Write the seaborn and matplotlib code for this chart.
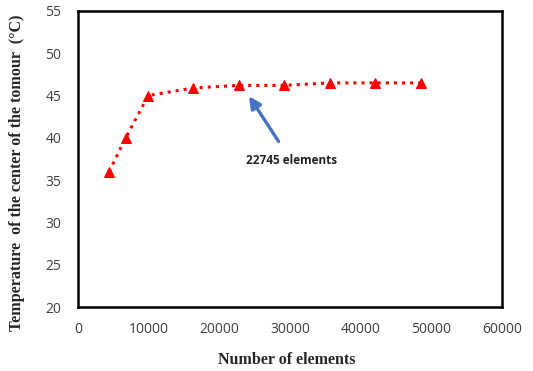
import matplotlib
matplotlib.use("Agg")
import matplotlib.pyplot as plt
import seaborn as sns
import pandas as pd

# values
elements = [4400, 6750, 9950, 16300, 22745, 29200, 35650, 42100, 48500]
temperature = [36.0, 40.0, 45.0, 45.9, 46.2, 46.2, 46.5, 46.5, 46.5]

df = pd.DataFrame({"elements": elements, "temperature": temperature})

sns.set_style("white")
plt.rcParams["font.family"] = ["Open Sans", "DejaVu Sans"]
plt.rcParams["xtick.direction"] = "in"
plt.rcParams["ytick.direction"] = "in"

fig = plt.figure(figsize=(5.33, 3.71), dpi=100)
ax = fig.add_axes([0.1463, 0.1725, 0.7955, 0.7979])

sns.lineplot(data=df, x="elements", y="temperature", ax=ax,
             color="#FF0000", linestyle=":", linewidth=2.2,
             marker="^", markersize=7, markeredgecolor="#FF0000")

ax.set_xlim(0, 60000)
ax.set_ylim(20, 55)
ax.set_xticks(range(0, 60001, 10000))
ax.set_yticks(range(20, 56, 5))
ax.tick_params(axis="both", labelsize=10, labelcolor="#404040",
               color="black", length=4, width=1)
ax.tick_params(axis="x", pad=11)
ax.tick_params(axis="y", pad=12)
for s in ax.spines.values():
    s.set_linewidth(1.8)
    s.set_color("black")

ax.set_xlabel("Number of elements", family="Liberation Serif",
              fontweight="bold", fontsize=11.5)
ax.set_ylabel("Temperature  of the center of the tomour  (°C)",
              family="Liberation Serif", fontweight="bold", fontsize=11.6)
ax.xaxis.set_label_coords(0.493, -0.152)
ax.yaxis.set_label_coords(-0.126, 0.455)

ax.annotate("", xy=(24000, 45.2), xytext=(28600, 39.3),
            arrowprops=dict(arrowstyle="-|>,head_length=0.7,head_width=0.35",
                            color="#4472C4", lw=2.4))
ax.text(30200, 37.3, "22745 elements", fontsize=8.5, fontweight="bold",
        ha="center", va="center", color="#222222")

fig.savefig("out.png", dpi=100)
